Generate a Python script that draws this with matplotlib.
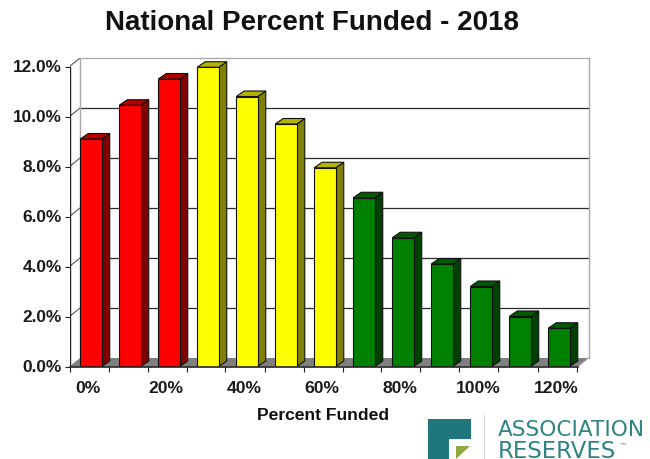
import matplotlib
matplotlib.use('Agg')
import matplotlib.pyplot as plt
from matplotlib.patches import Polygon, Rectangle

plt.rcParams['font.family'] = ['Liberation Sans', 'DejaVu Sans']

# Datos del gráfico
categorias = ['0%', '10%', '20%', '30%', '40%', '50%', '60%', '70%', '80%', '90%', '100%', '110%', '120%']
valores = [9.1, 10.45, 11.5, 11.97, 10.8, 9.7, 7.95, 6.75, 5.15, 4.1, 3.2, 2.0, 1.53]
grupos = ['r', 'r', 'r', 'y', 'y', 'y', 'y', 'g', 'g', 'g', 'g', 'g', 'g']
marcas_y = [0, 2, 4, 6, 8, 10, 12]

# Colores: frente, tapa, lateral
colores = {
    'r': ('#ff0000', '#b40000', '#7f0000'),
    'y': ('#ffff00', '#b4b400', '#7f7f00'),
    'g': ('#008000', '#005a00', '#004000'),
}

W, H = 650, 459
fig = plt.figure(figsize=(W / 100, H / 100), dpi=100, facecolor='white')

# Ejes en pixeles: 39 px por categoria y 25 px por punto porcentual
x0, x1, y_base, y_tope = 69.5, 588.5, 366.5, 58.0
ax = fig.add_axes([x0 / W, 1 - y_base / H, (x1 - x0) / W, (y_base - y_tope) / H])
px_x, px_y = 39.0, 25.0
ax.set_xlim((x0 - 91) / px_x, (x1 - 91) / px_x)
ax.set_ylim(0, (y_base - y_tope) / px_y)
for s in ax.spines.values():
    s.set_visible(False)

xi = (x0 - 91) / px_x
xf = xi + 508.5 / px_x
fx, fy = 10.5 / px_x, 8.5 / px_y  # profundidad de la pared
bx, by = 8 / px_x, 5.5 / px_y     # profundidad de las barras
ancho = 21.5 / px_x

# Suelo gris
ax.add_patch(Polygon([(xi, 0), (xf, 0), (xf + fx, fy), (xi + fx, fy)], fc='#808080', ec='none', zorder=1))

# Lineas de la cuadricula y de la pared
for m in marcas_y:
    if m > 0:
        color = '#a8a8a8' if m == 12 else '#2a2a2a'
        ax.plot([xi + fx, xf + fx], [m + fy, m + fy], color=color, lw=0.9, zorder=2, clip_on=False)
        ax.plot([xi, xi + fx], [m, m + fy], color='#555555', lw=0.8, zorder=2)
ax.plot([xi + fx, xi + fx], [fy, 12 + fy], color='#a8a8a8', lw=1, zorder=2)
ax.plot([xf + fx, xf + fx], [fy, 12 + fy], color='#a8a8a8', lw=1, zorder=2, clip_on=False)
ax.plot([xf, xf + fx], [0, fy], color='#a8a8a8', lw=0.8, zorder=2, clip_on=False)

# Barras con efecto 3D
for i, (v, g) in enumerate(zip(valores, grupos)):
    frente, tapa, lateral = colores[g]
    iz, de = i - ancho / 2, i + ancho / 2
    ax.add_patch(Polygon([(de, 0), (de + bx, by), (de + bx, v + by), (de, v)],
                         fc=lateral, ec='#111111', lw=0.8, zorder=3 + i))
    ax.add_patch(Polygon([(iz, v), (de, v), (de + bx, v + by), (iz + bx, v + by)],
                         fc=tapa, ec='#111111', lw=0.8, zorder=3 + i))
    ax.add_patch(Rectangle((iz, 0), ancho, v, fc=frente, ec='#111111', lw=0.8, zorder=3 + i))

# Ejes
ax.plot([xi, xi], [0, 12], color='#222222', lw=1, zorder=30)
ax.plot([xi, xf], [0, 0], color='#222222', lw=1.2, zorder=30, clip_on=False)

ax.set_yticks(marcas_y)
ax.set_yticklabels([f'{m:.1f}%' for m in marcas_y], fontsize=12.4, fontweight='bold', color='#1a1a1a')
ax.set_xticks([xi + k for k in range(14)])
ax.set_xticklabels([])
ax.tick_params(axis='both', length=3.5, width=0.8, color='#222222', pad=2)
ax.patch.set_visible(False)

# Solo una de cada dos categorias lleva etiqueta
for i in range(0, len(categorias), 2):
    ax.text(i - 0.07, -0.58, categorias[i], ha='center', va='top', fontsize=12.6,
            fontweight='bold', color='#1a1a1a')

fig.text(323 / W, 1 - 416 / H, 'Percent Funded', ha='center', va='center', fontsize=12.6,
         fontweight='bold', color='#111111')
fig.text(312 / W, 1 - 22.5 / H, 'National Percent Funded - 2018', ha='center', va='center',
         fontsize=20, fontweight='bold', color='#111111')

# Logotipo en coordenadas de pixel
logo = fig.add_axes([0, 0, 1, 1], facecolor='none')
logo.set_xlim(0, W)
logo.set_ylim(H, 0)
logo.axis('off')
teal = '#1f767c'
logo.add_patch(Polygon([(428, 419), (471, 419), (471, 439), (449, 439), (449, 459), (428, 459)], fc=teal, ec='none'))
logo.add_patch(Polygon([(456, 446), (470, 446), (456, 459)], fc='#8fa83f', ec='none'))
logo.plot([484, 484], [415, 459], color='#d5d5d5', lw=0.8)
logo.text(498, 436.5, 'ASSOCIATION', fontsize=15.6, family='DejaVu Sans', color='#2f8285', va='baseline')
logo.text(498, 457.5, 'RESERVES', fontsize=16.4, family='DejaVu Sans', color='#2f8285', va='baseline')
logo.text(619, 449, '™', fontsize=6, family='DejaVu Sans', color='#777777', va='baseline')

fig.savefig('out.png', dpi=100)
